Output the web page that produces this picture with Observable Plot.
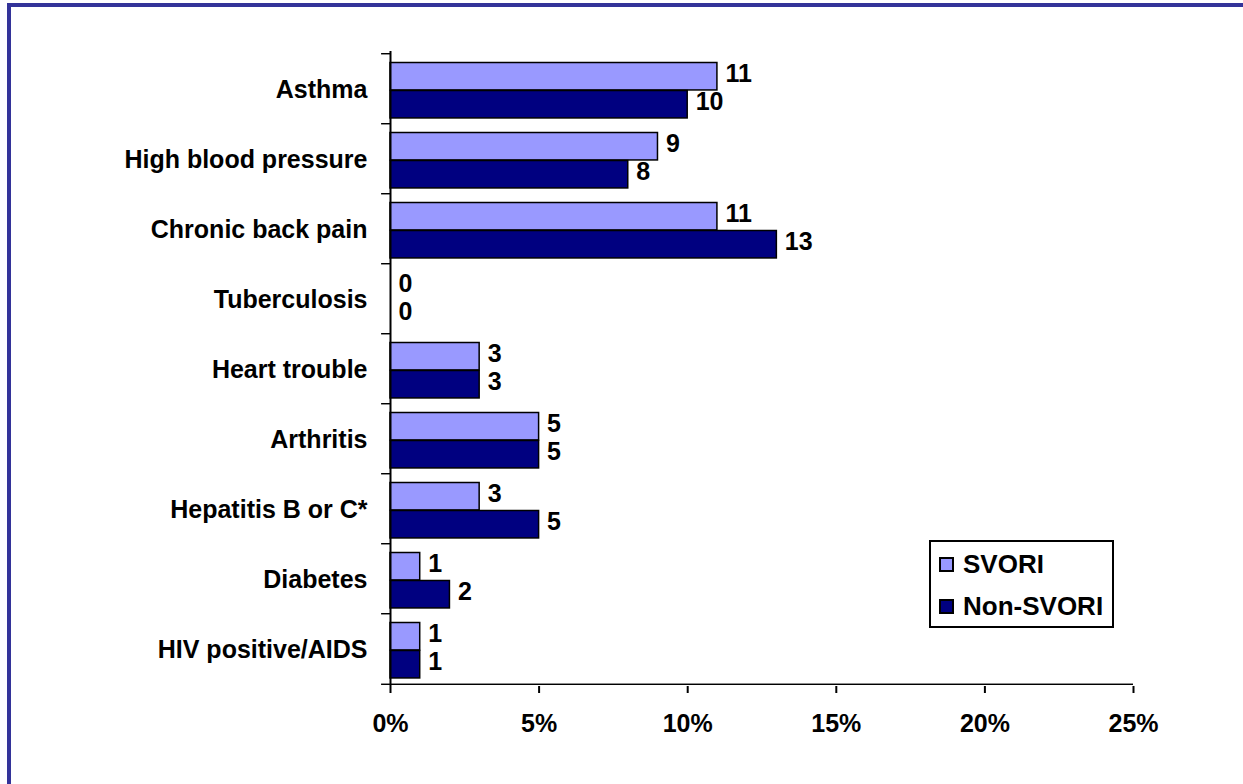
<!DOCTYPE html>
<html>
<head>
<meta charset="utf-8">
<script src="https://cdn.jsdelivr.net/npm/d3@7"></script>
<script src="https://cdn.jsdelivr.net/npm/@observablehq/plot@0.6"></script>
<style>
  html, body { margin: 0; padding: 0; background: #fff; }
  #wrap { position: relative; width: 1243px; height: 784px; overflow: hidden; background: #fff;
          font-family: "Liberation Sans", Arial, sans-serif; font-weight: bold; }
  #borderTop { position: absolute; left: 7px; top: 3px; right: 0; height: 4px; background: #333399; }
  #borderLeft { position: absolute; left: 7px; top: 3px; bottom: 0; width: 4px; background: #333399; }
  #chart { position: absolute; left: 0; top: 0; }
  #legend { position: absolute; left: 929px; top: 540px; width: 185px; height: 88px; box-sizing: border-box;
            border: 2px solid #000; background: #fff; }
  .lg-item { position: absolute; left: 8px; height: 20px; display: flex; align-items: center; }
  .lg-sw { width: 15px; height: 15px; box-sizing: border-box; border: 2px solid #000; margin-right: 9px; }
  .lg-tx { font-size: 26px; line-height: 20px; color: #000; }
</style>
</head>
<body>
<div id="wrap">
  <div id="borderTop"></div>
  <div id="borderLeft"></div>
  <div id="chart"></div>
  <div id="legend"></div>
</div>
<script>
// ---- data ----
const categories = ["Asthma", "High blood pressure", "Chronic back pain", "Tuberculosis",
  "Heart trouble", "Arthritis", "Hepatitis B or C*", "Diabetes", "HIV positive/AIDS"];
const svori = [11, 9, 11, 0, 3, 5, 3, 1, 1];
const nonSvori = [10, 8, 13, 0, 3, 5, 5, 2, 1];
const xTicks = [0, 5, 10, 15, 20, 25];
const seriesNames = ["SVORI", "Non-SVORI"];
const seriesColors = ["#9999ff", "#000080"];

// ---- layout ----
const W = 1243, H = 784;
const mL = 390, mT = 51, mB = 98, mR = 110;
const step = (H - mT - mB) / categories.length;
const padTop = 8.5, barH = 28;
const font = "Liberation Sans, Arial, sans-serif";
const fs = 25;

const rows = categories.map((c, i) => ({category: c, svori: svori[i], non: nonSvori[i]}));
const lastCat = categories[categories.length - 1];

const svoriCenter = padTop + barH / 2 - step / 2;
const nonCenter = padTop + barH * 1.5 - step / 2;

const chart = Plot.plot({
  width: W, height: H,
  marginLeft: mL, marginTop: mT, marginBottom: mB, marginRight: mR,
  style: {fontFamily: font, fontWeight: "bold", fontSize: fs + "px", background: "transparent", color: "#000"},
  x: {domain: [0, 25], axis: null},
  y: {domain: categories, padding: 0, axis: null},
  marks: [
    Plot.barX(rows, {filter: d => d.svori > 0, x: "svori", y: "category", fill: seriesColors[0],
      stroke: "#000", strokeWidth: 1.5, insetTop: padTop, insetBottom: step - padTop - barH}),
    Plot.barX(rows, {filter: d => d.non > 0, x: "non", y: "category", fill: seriesColors[1],
      stroke: "#000", strokeWidth: 1.5, insetTop: padTop + barH, insetBottom: step - padTop - 2 * barH}),
    Plot.text(rows, {x: "svori", y: "category", text: d => String(d.svori), dx: 8, dy: svoriCenter - 3,
      textAnchor: "start", fontSize: fs, fontWeight: "bold", fill: "#000"}),
    Plot.text(rows, {x: "non", y: "category", text: d => String(d.non), dx: 8, dy: nonCenter - 2.5,
      textAnchor: "start", fontSize: fs, fontWeight: "bold", fill: "#000"}),
    // y axis line
    Plot.ruleX([0], {stroke: "#000", strokeWidth: 2}),
    // category boundary ticks
    Plot.barX(categories, {x1: -0.3, x2: 0, y: d => d, insetTop: -1, insetBottom: step - 1, fill: "#000"}),
    // x axis line (with bottom-left tick)
    Plot.barX([lastCat], {x1: -0.3, x2: 25, y: d => d, insetTop: step - 1, insetBottom: -1, fill: "#000"}),
    Plot.axisX(xTicks, {tickFormat: d => d + "%", tickSize: 7, tickPadding: 21, strokeWidth: 2,
      fontSize: fs, fontWeight: "bold", fill: "#000", stroke: "#000", label: null}),
    Plot.axisY({tickSize: 0, tickPadding: 23, fontSize: fs, fontWeight: "bold", fill: "#000", label: null})
  ]
});
document.getElementById("chart").appendChild(chart);

// ---- legend ----
const legend = document.getElementById("legend");
seriesNames.forEach((name, i) => {
  const item = document.createElement("div");
  item.className = "lg-item";
  item.style.top = (12 + i * 42) + "px";
  const sw = document.createElement("div");
  sw.className = "lg-sw";
  sw.style.background = seriesColors[i];
  const tx = document.createElement("span");
  tx.className = "lg-tx";
  tx.textContent = name;
  item.appendChild(sw);
  item.appendChild(tx);
  legend.appendChild(item);
});
</script>
</body>
</html>
